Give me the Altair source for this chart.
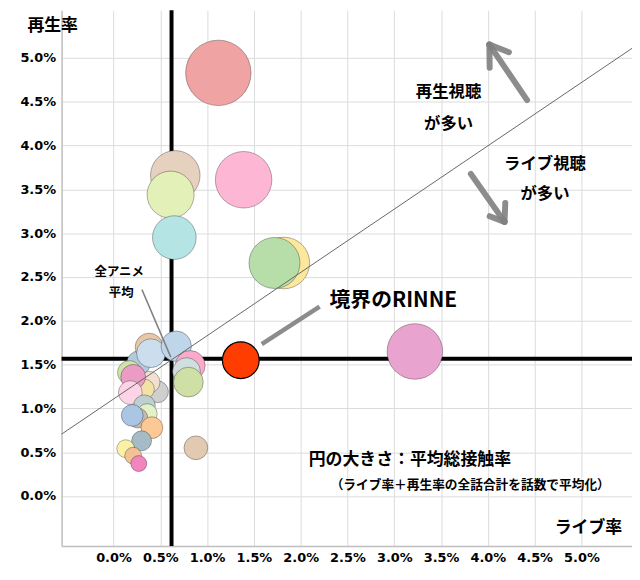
import altair as alt
import pandas as pd

# ---- bubble data (drawn bottom -> top) ----
ids = ["b01","b02","b03","b04","b05","b06","b07","b08","b09","b10","b11","b12","b13","b14","b15","b16",
       "b17","b18","b19","b20","b21","b22","b23","b24","b25","b26","b27","b28","b29","b30","b31"]
live_rate = [0.47, 0.38, 0.33, 0.27, 0.17, 0.21, 0.18, 0.33, 0.36, 0.26, 0.20, 0.41, 0.30, 0.13, 0.21, 0.27,
             0.38, 0.40, 0.67, 0.82, 0.78, 0.80, 0.88, 0.66, 0.61, 1.12, 1.39, 0.65, 1.82, 1.72, 3.22]
play_rate = [1.19, 1.30, 1.22, 1.52, 1.41, 1.36, 1.18, 1.03, 0.94, 0.89, 0.92, 0.78, 0.63, 0.54, 0.46, 0.37,
             1.70, 1.63, 1.71, 1.49, 1.42, 1.30, 0.55, 3.66, 3.44, 4.83, 3.61, 2.95, 2.66, 2.66, 1.65]
contact = [0.67, 0.67, 0.56, 0.80, 0.80, 0.87, 0.80, 0.67, 0.56, 0.56, 0.67, 0.67, 0.56, 0.45, 0.40, 0.36,
           1.09, 1.17, 1.30, 1.25, 1.09, 1.25, 0.80, 3.47, 3.12, 6.05, 4.51, 2.69, 3.76, 3.67, 4.36]
fills = ["#CFCFCF", "#F1E0D0", "#F2E2A6", "#B3C9DE", "#CFE5A8", "#EA9CC4", "#FDD3E6", "#BDCFCF", "#E3F2C6",
         "#C9B9A8", "#AAC6E2", "#FCC894", "#A5BCC6", "#FAF0A6", "#F2C294", "#F284BE",
         "#E6C8A8", "#CCDEEE", "#BFD5E9", "#FCAACC", "#CFDFE0", "#CFE0A6", "#E2C9B1", "#E6D1BF", "#E3F1B8",
         "#EFA3A3", "#FDB7D5", "#B4E4E4", "#FCE79C", "#B7DEA8", "#E8A3CE"]

# ---- RINNE ----
rinne_x = [1.36]
rinne_y = [1.55]
rinne_contact = [1.90]

# ---- averages / reference line ----
avg_live = 0.62
avg_play = 1.566
diag_x = [-0.555, 5.54]
diag_y = [0.706, 5.11]

x_ticks = [0.0, 0.5, 1.0, 1.5, 2.0, 2.5, 3.0, 3.5, 4.0, 4.5, 5.0]
y_ticks = [0.0, 0.5, 1.0, 1.5, 2.0, 2.5, 3.0, 3.5, 4.0, 4.5, 5.0]
x_dom = [-0.555, 5.54]
y_dom = [-0.57, 5.545]

FONT = "Noto Sans CJK JP"

xs = alt.Scale(domain=x_dom, nice=False, zero=False)
ys = alt.Scale(domain=y_dom, nice=False, zero=False)
ss = alt.Scale(type="linear", domain=[0, 7], range=[0, 7 * 720])

bub = pd.DataFrame({"id": ids, "live": live_rate, "play": play_rate, "contact": contact,
                    "order": list(range(len(ids)))})

X = lambda f: alt.X(f, type="quantitative", scale=xs,
                    axis=alt.Axis(values=x_ticks, labelExpr="format(datum.value,'.1f')+'%'",
                                  title=None, grid=True, ticks=False))
Y = lambda f: alt.Y(f, type="quantitative", scale=ys,
                    axis=alt.Axis(values=y_ticks, labelExpr="format(datum.value,'.1f')+'%'",
                                  title=None, grid=True, ticks=False))

base_axes = alt.Chart(pd.DataFrame({"x": [0.0], "y": [0.0]})).mark_point(opacity=0).encode(
    x=X("x"), y=Y("y"))

mean_df = pd.DataFrame({"x": [avg_live], "y": [avg_play]})
vline = alt.Chart(mean_df).mark_rule(color="black", strokeWidth=4).encode(
    x=alt.X("x:Q", scale=xs))
hline = alt.Chart(mean_df).mark_rule(color="black", strokeWidth=4).encode(
    y=alt.Y("y:Q", scale=ys))

bubbles = alt.Chart(bub).mark_circle(opacity=1, stroke="#000000", strokeOpacity=0.3,
                                     strokeWidth=1).encode(
    x=alt.X("live:Q", scale=xs),
    y=alt.Y("play:Q", scale=ys),
    size=alt.Size("contact:Q", scale=ss, legend=None),
    color=alt.Color("id:N", scale=alt.Scale(domain=ids, range=fills), legend=None),
    order=alt.Order("order:Q"),
)

rinne = alt.Chart(pd.DataFrame({"x": rinne_x, "y": rinne_y, "c": rinne_contact})).mark_circle(
    opacity=1, color="#FF3D00", stroke="#000000", strokeWidth=1.2).encode(
    x=alt.X("x:Q", scale=xs), y=alt.Y("y:Q", scale=ys),
    size=alt.Size("c:Q", scale=ss, legend=None))

diag = alt.Chart(pd.DataFrame({"x": diag_x, "y": diag_y})).mark_line(
    color="#666666", strokeWidth=1).encode(
    x=alt.X("x:Q", scale=xs), y=alt.Y("y:Q", scale=ys))

# annotation segments (data coords)
seg = pd.DataFrame({
    "x":  [4.419, 4.016, 4.016, 3.818, 4.178, 4.178, 1.584, 0.304],
    "y":  [4.519, 5.153, 5.153, 3.677, 3.129, 3.129, 1.733, 2.356],
    "x2": [4.016, 4.225, 4.019, 4.178, 4.019, 4.186, 2.202, 0.612],
    "y2": [5.153, 5.066, 4.889, 3.129, 3.194, 3.344, 2.163, 1.585],
    "w":  ["a", "a", "a", "a", "a", "a", "r", "p"],
})
arrows = alt.Chart(seg[seg.w == "a"]).mark_rule(
    color="#7F7F7F", strokeWidth=6, strokeCap="round", opacity=0.9).encode(
    x=alt.X("x:Q", scale=xs), y=alt.Y("y:Q", scale=ys), x2="x2:Q", y2="y2:Q")
rline = alt.Chart(seg[seg.w == "r"]).mark_rule(
    color="#7F7F7F", strokeWidth=4.5, opacity=0.9).encode(
    x=alt.X("x:Q", scale=xs), y=alt.Y("y:Q", scale=ys), x2="x2:Q", y2="y2:Q")
pline = alt.Chart(seg[seg.w == "p"]).mark_rule(
    color="#808080", strokeWidth=1.5).encode(
    x=alt.X("x:Q", scale=xs), y=alt.Y("y:Q", scale=ys), x2="x2:Q", y2="y2:Q")

def txt(df, size, align="center"):
    return alt.Chart(df).mark_text(font=FONT, fontWeight="bold", fontSize=size, align=align,
                                   baseline="middle", color="black").encode(
        x=alt.X("x:Q", scale=xs), y=alt.Y("y:Q", scale=ys), text="t:N")

labels_big = pd.DataFrame({
    "t": ["再生率", "ライブ率"],
    "x": [-0.65, 5.075],
    "y": [5.368, -0.362],
})
labels_c = pd.DataFrame({
    "t": ["再生視聴", "が多い", "ライブ視聴", "が多い"],
    "x": [3.58, 3.58, 4.61, 4.61],
    "y": [4.61, 4.247, 3.794, 3.443],
})
labels_s = pd.DataFrame({"t": ["全アニメ", "平均"], "x": [0.061, 0.082], "y": [2.559, 2.322]})
label_r = pd.DataFrame({"t": ["境界のRINNE"], "x": [2.308], "y": [2.231]})
label_n1 = pd.DataFrame({"t": ["円の大きさ：平均総接触率"], "x": [2.086], "y": [0.408]})
label_n2 = pd.DataFrame({"t": ["（ライブ率＋再生率の全話合計を話数で平均化）"], "x": [2.32], "y": [0.125]})

chart = alt.layer(
    base_axes, vline, hline, bubbles, rinne, diag, arrows, rline, pline,
    txt(labels_big, 17), txt(labels_c, 16.5), txt(labels_s, 12.5), txt(label_r, 21, "left"),
    txt(label_n1, 17, "left"), txt(label_n2, 12.8, "left"),
).properties(
    width=575, height=540,
    autosize=alt.AutoSizeParams(type="none"),
    padding={"left": 54, "top": 0, "right": 0, "bottom": 22},
).configure_view(stroke=None).configure_axis(
    domainColor="#BFBFBF", domainWidth=1.5, gridColor="#DCDCDC", gridWidth=1,
    labelFont="DejaVu Sans", labelFontWeight="bold", labelFontSize=13, labelColor="black",
    labelPadding=6,
)

chart.save("out.html", embed_options={"renderer": "svg", "actions": False})
